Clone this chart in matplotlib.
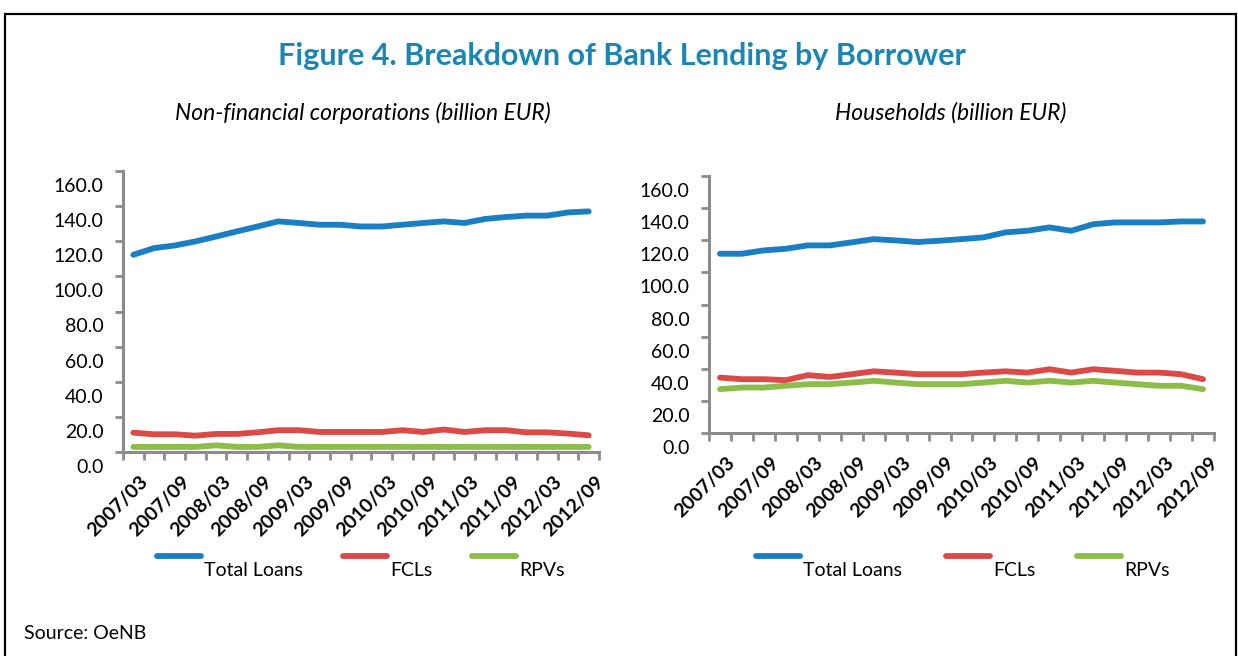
import matplotlib
matplotlib.use("Agg")
import matplotlib.pyplot as plt
import matplotlib.transforms as mtransforms
from matplotlib.lines import Line2D
from matplotlib.patches import Rectangle

plt.rcParams['font.family'] = ['Lato', 'DejaVu Sans']

# quarterly observations, 2007/03 .. 2012/09
quarters = ['2007/03', '2007/06', '2007/09', '2007/12', '2008/03', '2008/06',
            '2008/09', '2008/12', '2009/03', '2009/06', '2009/09', '2009/12',
            '2010/03', '2010/06', '2010/09', '2010/12', '2011/03', '2011/06',
            '2011/09', '2011/12', '2012/03', '2012/06', '2012/09']

# non-financial corporations
nfc_total = [112.3, 116.1, 117.6, 119.9, 122.7, 125.6, 128.4, 131.3, 130.4, 129.4,
             129.4, 128.4, 128.4, 129.4, 130.4, 131.3, 130.4, 132.7, 133.8, 134.6,
             134.6, 136.4, 137.0]
nfc_fcl = [11.0, 10.1, 10.1, 9.3, 10.3, 10.3, 11.2, 12.4, 12.4, 11.4, 11.4, 11.4,
           11.4, 12.4, 11.4, 12.8, 11.4, 12.4, 12.4, 11.2, 11.2, 10.5, 9.5]
nfc_rpv = [2.9, 2.9, 2.9, 2.9, 3.8, 2.9, 2.9, 3.8, 2.9, 2.9, 2.9, 2.9,
           2.9, 2.9, 2.9, 2.9, 2.9, 2.9, 2.9, 2.9, 2.9, 2.9, 2.9]

# households
hh_total = [111.6, 111.6, 113.7, 114.7, 116.8, 116.8, 118.7, 120.7, 119.9, 118.9,
            119.7, 120.7, 121.8, 124.9, 125.9, 128.0, 125.9, 130.0, 131.1, 131.1,
            131.1, 131.7, 131.7]
hh_fcl = [34.5, 33.5, 33.5, 32.9, 36.0, 34.9, 36.6, 38.4, 37.6, 36.6, 36.6, 36.6,
          37.6, 38.4, 37.6, 39.7, 37.6, 39.7, 38.7, 37.6, 37.6, 36.6, 33.5]
hh_rpv = [27.3, 28.3, 28.3, 29.4, 30.4, 30.4, 31.4, 32.5, 31.4, 30.4, 30.4, 30.4,
          31.4, 32.5, 31.4, 32.5, 31.4, 32.5, 31.4, 30.4, 29.4, 29.4, 27.3]

blue = '#1a7ec2'
red = '#dc4a47'
green = '#8cbd48'
grey = '#8c8c8c'

fig = plt.figure(figsize=(12.38, 6.56), dpi=100)

# outer frame
fig.add_artist(Rectangle((5 / 1238, -0.05), 1231 / 1238, 1.05 - 14 / 656,
                         transform=fig.transFigure, fill=False,
                         edgecolor='black', linewidth=1.6))

fig.text(0.502, 0.915, 'Figure 4. Breakdown of Bank Lending by Borrower',
         ha='center', va='center', fontsize=22, fontweight='bold', color='#1a86b4')
fig.text(0.293, 0.828, 'Non-financial corporations (billion EUR)',
         ha='center', va='center', fontsize=16.5, style='italic')
fig.text(0.768, 0.828, 'Households (billion EUR)',
         ha='center', va='center', fontsize=16.5, style='italic')
fig.text(0.019, 0.035, 'Source: OeNB', ha='left', va='center', fontsize=14)


def draw_panel(rect, total, fcl, rpv):
    ax = fig.add_axes(rect)
    x = range(len(quarters))
    for vals, col in ((total, blue), (fcl, red), (rpv, green)):
        ax.plot(x, vals, color=col, linewidth=4.2, solid_capstyle='round',
                solid_joinstyle='round')
    ax.set_xlim(-0.5, len(quarters) - 0.5)
    ax.set_ylim(0, 160)
    ax.set_yticks(range(0, 161, 20))
    ax.set_yticklabels(['%.1f' % v for v in range(0, 161, 20)], fontsize=14)
    ax.set_xticks(range(0, len(quarters), 2))
    ax.set_xticklabels(quarters[::2], rotation=45, ha='right', va='top',
                       rotation_mode='anchor', fontsize=14, fontweight='bold')
    ax.set_xticks([i - 0.5 for i in range(len(quarters) + 1)], minor=True)
    ax.tick_params(axis='x', which='major', length=0, pad=15)
    ax.tick_params(axis='x', which='minor', length=6, width=2, color=grey)
    ax.tick_params(axis='y', length=6, width=2, color=grey, pad=8)
    for s in ('top', 'right'):
        ax.spines[s].set_visible(False)
    for s in ('left', 'bottom'):
        ax.spines[s].set_color(grey)
        ax.spines[s].set_linewidth(2.2)
    shift = mtransforms.ScaledTranslation(0, -0.14, fig.dpi_scale_trans)
    for lab in ax.get_yticklabels():
        lab.set_transform(lab.get_transform() + shift)
    shift_x = mtransforms.ScaledTranslation(0.06, 0, fig.dpi_scale_trans)
    for lab in ax.get_xticklabels():
        lab.set_transform(lab.get_transform() + shift_x)
    return ax


draw_panel([123 / 1238, 1 - 452 / 656, 476 / 1238, 281 / 656],
           nfc_total, nfc_fcl, nfc_rpv)
draw_panel([709 / 1238, 1 - 433 / 656, 505 / 1238, 257 / 656],
           hh_total, hh_fcl, hh_rpv)

# legends: short swatch with the label set below and to its right
legend_rows = [
    [(157, 'Total Loans', blue), (343, 'FCLs', red), (472, 'RPVs', green)],
    [(756, 'Total Loans', blue), (946, 'FCLs', red), (1077, 'RPVs', green)],
]
for row in legend_rows:
    for x0, name, col in row:
        fig.add_artist(Line2D([x0 / 1238, (x0 + 44) / 1238],
                              [1 - 556 / 656, 1 - 556 / 656],
                              transform=fig.transFigure, color=col,
                              linewidth=4.2, solid_capstyle='round'))
        fig.text((x0 + 47) / 1238, 1 - 571 / 656, name, ha='left',
                 va='center', fontsize=14)

fig.savefig('out.png', dpi=100)
